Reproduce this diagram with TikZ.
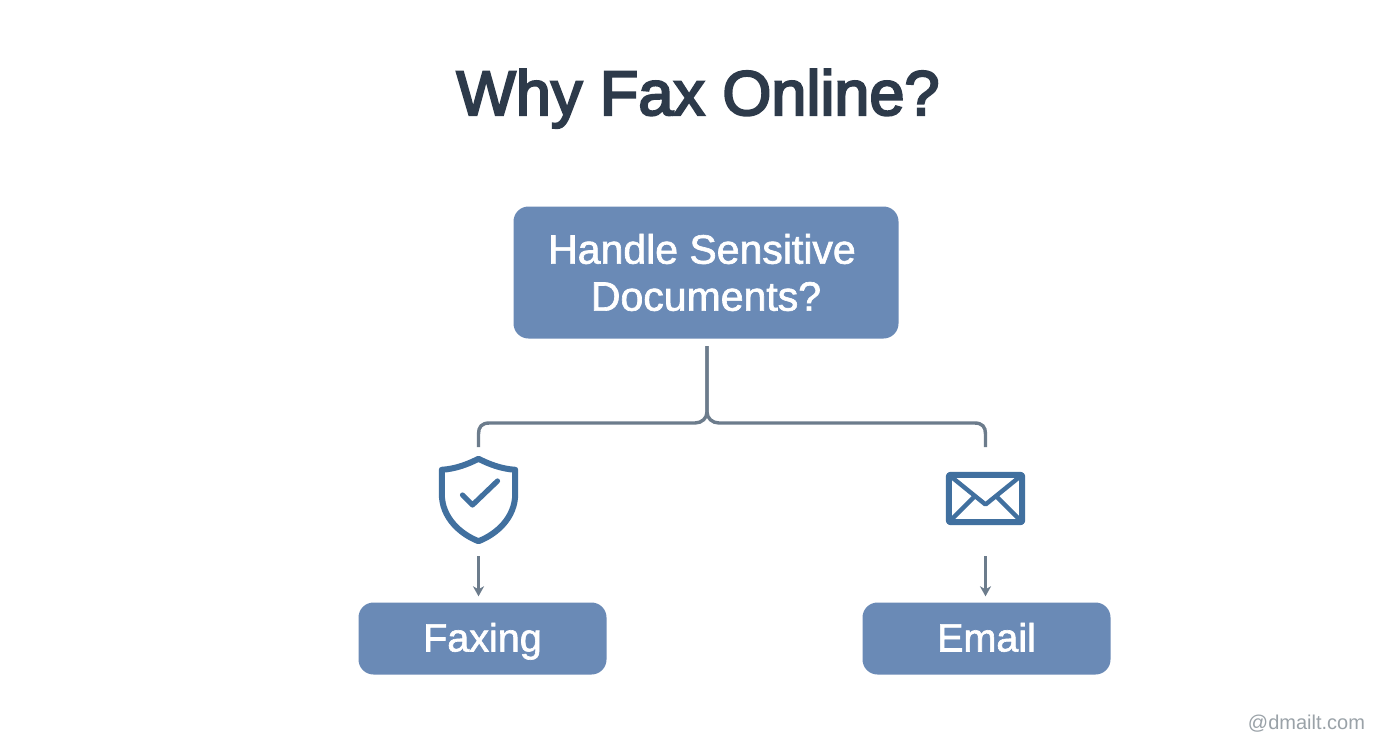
\documentclass[tikz,border=0pt]{standalone}
\usepackage{fontspec}
\setmainfont{Liberation Sans}
\newfontfamily\titlefont[FakeBold=3.5]{Liberation Sans}
\newfontfamily\boxfont[FakeBold=1.6]{Liberation Sans}
\usetikzlibrary{arrows.meta,calc}
\definecolor{boxblue}{HTML}{6A8AB6}
\definecolor{linegray}{HTML}{6C7C8C}
\definecolor{iconblue}{HTML}{41709F}
\definecolor{titleink}{HTML}{2D3A4A}
\definecolor{wmark}{HTML}{9AA2A8}
\tikzset{
  flowbox/.style={fill=boxblue,rounded corners=15pt,text=white,inner sep=0pt,align=center},
  link/.style={draw=linegray,line width=3.4pt},
  thinarrow/.style={draw=linegray,line width=2.4pt,-{Stealth[length=10pt,width=11pt,inset=3pt]},shorten >=6pt},
  icon/.style={draw=iconblue,line width=6pt,line join=round,line cap=round},
  iconbox/.style={inner sep=0pt,minimum width=79pt}
}
\begin{document}
\begin{tikzpicture}[x=1pt,y=-1pt]
\useasboundingbox (0,0) rectangle (1392,752);
\fill[white] (0,0) rectangle (1392,752);
\node[text=titleink,font=\fontsize{63}{70}\selectfont\titlefont,anchor=base] (title) at (698,115) {Why Fax Online?};
\node[flowbox,minimum width=385pt,minimum height=132pt,font=\fontsize{41}{47}\selectfont\boxfont] (q) at (706,272.5) {Handle Sensitive\kern8pt\\Documents?};
\node[flowbox,minimum width=248pt,minimum height=72pt,text height=26pt,text depth=0pt,font=\fontsize{39.5}{44}\selectfont\boxfont] (fax) at (482.5,638.5) {Faxing};
\node[flowbox,minimum width=248pt,minimum height=72pt,text height=26pt,text depth=0pt,font=\fontsize{39.5}{44}\selectfont\boxfont] (mail) at (986.5,638.5) {Email};
\node[iconbox,minimum height=88pt] (shield) at (478.5,500) {};
\node[iconbox,minimum height=53pt] (env) at (985.5,498.5) {};
\coordinate (top) at (707,346);
\coordinate (lend) at (478.5,447);
\coordinate (rend) at (985.5,447);
\coordinate (fork) at (707,412);
% shield
\draw[icon] ($(shield.north)+(0,3)$) .. controls ($(shield.north)+(-10,8)$) and ($(shield.north)+(-22,13)$) .. ($(shield.north west)+(3,14)$)
  -- ($(shield.north west)+(3,38)$) .. controls ($(shield.north west)+(3,62)$) and ($(shield.south)+(-18,-10)$) .. ($(shield.south)+(0,-3)$)
  .. controls ($(shield.south)+(18,-10)$) and ($(shield.north east)+(-3,62)$) .. ($(shield.north east)+(-3,38)$)
  -- ($(shield.north east)+(-3,14)$) .. controls ($(shield.north)+(22,13)$) and ($(shield.north)+(10,8)$) .. ($(shield.north)+(0,3)$) -- cycle;
\draw[icon,line width=5.2pt] ($(shield.center)+(-16,-5)$) -- ($(shield.center)+(-6,5)$) -- ($(shield.center)+(19,-19)$);
% envelope
\draw[icon,rounded corners=2pt] ($(env.north west)+(3,3)$) rectangle ($(env.south east)+(-3,-3)$);
\draw[icon,line width=4.4pt] ($(env.north west)+(3,3)$) -- ($(env.center)+(0,6)$) -- ($(env.north east)+(-3,3)$);
\draw[icon,line width=4.4pt] ($(env.south west)+(3,-3)$) -- ($(env.center)+(-12,-1)$);
\draw[icon,line width=4.4pt] ($(env.south east)+(-3,-3)$) -- ($(env.center)+(12,-1)$);
% connectors
\draw[link] (top) -- (fork) .. controls ($(fork)+(0,6)$) and ($(fork)+(-5,11)$) .. ($(fork)+(-12,11)$)
  -- ($(lend)+(11,-24)$) .. controls ($(lend)+(3,-24)$) and ($(lend)+(0,-20)$) .. ($(lend)+(0,-13)$) -- (lend);
\draw[link] (top) -- (fork) .. controls ($(fork)+(0,6)$) and ($(fork)+(5,11)$) .. ($(fork)+(12,11)$)
  -- ($(rend)+(-11,-24)$) .. controls ($(rend)+(-3,-24)$) and ($(rend)+(0,-20)$) .. ($(rend)+(0,-13)$) -- (rend);
\draw[thinarrow,shorten <=12pt] (shield.south) -- (shield.south |- fax.north);
\draw[thinarrow,shorten <=31pt] (env.south) -- (env.south |- mail.north);
\node[text=wmark,font=\fontsize{20}{20}\selectfont,anchor=base east] (wm) at (1368.5,729) {@dmailt.com};
\end{tikzpicture}
\end{document}
